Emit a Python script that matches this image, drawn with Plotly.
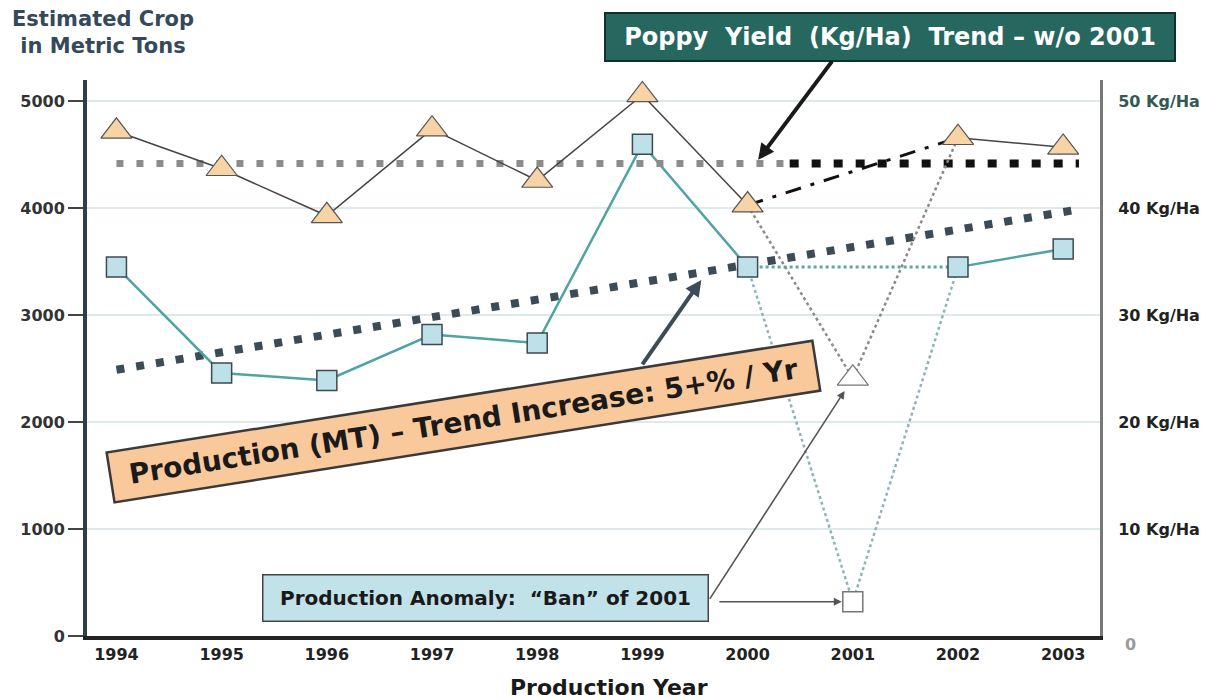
import plotly.graph_objects as go

# ---------------- data ----------------
years = [1994, 1995, 1996, 1997, 1998, 1999, 2000, 2001, 2002, 2003]
year_labels = [str(y) for y in years]
production_mt = [3450, 2460, 2390, 2820, 2740, 4600, 3450, 320, 3450, 3620]
yield_kgha = [47.2, 43.7, 39.3, 47.4, 42.6, 50.6, 40.3, 24.1, 46.6, 45.7]

prod_trend_x = [1994, 2003.15]
prod_trend_y = [2490, 3990]
yield_trend_gray_x = [1994, 2000.4]
yield_trend_black_x = [2000.4, 2003.15]
yield_trend_value = 44.2

left_ticks = [0, 1000, 2000, 3000, 4000, 5000]
right_ticks = [10, 20, 30, 40, 50]
right_tick_labels = [f"{v} Kg/Ha" for v in right_ticks]

FONT = "DejaVu Sans, Liberation Sans, Arial, sans-serif"
anomaly_year = 2001
i_an = years.index(anomaly_year)

fig = go.Figure()

# trend lines
fig.add_trace(go.Scatter(x=prod_trend_x, y=prod_trend_y, mode="lines",
                         line=dict(color="#3c4c56", width=8, dash="8px,12px"),
                         hoverinfo="skip"))
fig.add_trace(go.Scatter(x=yield_trend_gray_x, y=[yield_trend_value] * 2, yaxis="y2", mode="lines",
                         line=dict(color="#8c8c8c", width=7, dash="7px,13px"), hoverinfo="skip"))
fig.add_trace(go.Scatter(x=yield_trend_black_x, y=[yield_trend_value] * 2, yaxis="y2", mode="lines",
                         line=dict(color="#111111", width=8, dash="9px,13px"), hoverinfo="skip"))

# anomaly connectors (2000 -> 2001 -> 2002)
sl = slice(i_an - 1, i_an + 2)
fig.add_trace(go.Scatter(x=years[sl], y=production_mt[sl], mode="lines",
                         line=dict(color="#8fb3b5", width=2.5, dash="dot"), hoverinfo="skip"))
fig.add_trace(go.Scatter(x=years[sl], y=yield_kgha[sl], yaxis="y2", mode="lines",
                         line=dict(color="#8a8a8a", width=2.5, dash="dot"), hoverinfo="skip"))
# bypass lines 2000 -> 2002
fig.add_trace(go.Scatter(x=[years[i_an - 1], years[i_an + 1]],
                         y=[production_mt[i_an - 1], production_mt[i_an + 1]], mode="lines",
                         line=dict(color="#5aa6a3", width=3, dash="dot"), hoverinfo="skip"))
fig.add_trace(go.Scatter(x=[years[i_an - 1], years[i_an + 1]],
                         y=[yield_kgha[i_an - 1], yield_kgha[i_an + 1]], yaxis="y2", mode="lines",
                         line=dict(color="#111111", width=3, dash="16px,10px,4px,10px"), hoverinfo="skip"))

# main solid lines (break at anomaly)
prod_solid = [None if y == anomaly_year else v for y, v in zip(years, production_mt)]
yield_solid = [None if y == anomaly_year else v for y, v in zip(years, yield_kgha)]
fig.add_trace(go.Scatter(x=years, y=prod_solid, mode="lines", connectgaps=False,
                         line=dict(color="#4fa3a5", width=2.5), hoverinfo="skip"))
fig.add_trace(go.Scatter(x=years, y=yield_solid, yaxis="y2", mode="lines", connectgaps=False,
                         line=dict(color="#444444", width=1.5), hoverinfo="skip"))

# markers
sq_fill = ["#ffffff" if y == anomaly_year else "#bde0e9" for y in years]
sq_line = ["#777777" if y == anomaly_year else "#3d4a50" for y in years]
tr_fill = ["#ffffff" if y == anomaly_year else "#f8d3a6" for y in years]
tr_line = ["#777777" if y == anomaly_year else "#555555" for y in years]
fig.add_trace(go.Scatter(x=years, y=production_mt, mode="markers",
                         marker=dict(symbol="square", size=20, color=sq_fill,
                                     line=dict(color=sq_line, width=1.5))))
fig.add_trace(go.Scatter(x=years, y=yield_kgha, yaxis="y2", mode="markers",
                         marker=dict(symbol="triangle-up", size=27, color=tr_fill,
                                     line=dict(color=tr_line, width=1.2))))

right_tick_text = [f"<span style='color:#2f5a55'>{t}</span>" if v == 50 else t
                   for v, t in zip(right_ticks, right_tick_labels)]

annotations = [
    dict(text="Estimated Crop<br>in Metric Tons", xref="paper", yref="paper", x=0.0157, y=1.085,
         showarrow=False, xanchor="center", yanchor="middle",
         font=dict(family=FONT, size=21, color="#34495a", weight="bold")),
    dict(text="Production Year", xref="paper", yref="paper", x=0.515, y=-0.0935,
         showarrow=False, xanchor="center", yanchor="middle",
         font=dict(family=FONT, size=22, color="#1a1a1a", weight="bold")),
    dict(text="0", xref="paper", yref="paper", x=1.0305, y=-0.016, showarrow=False,
         xanchor="center", yanchor="middle",
         font=dict(family=FONT, size=16, color="#9a9a9a", weight="bold")),
    # Poppy yield box
    dict(text="Poppy&nbsp; Yield&nbsp; (Kg/Ha)&nbsp; Trend – w/o 2001", xref="paper", yref="paper",
         x=0.793, y=1.077, showarrow=False, xanchor="center", yanchor="middle",
         width=558, height=36, borderpad=5, bgcolor="#26675f", bordercolor="#14302c", borderwidth=2,
         font=dict(family=FONT, size=24, color="#ffffff", weight="bold")),
    dict(text="", x=2000.10, y=4453, ax=75, ay=-100, showarrow=True, arrowhead=2,
         arrowsize=0.8, arrowwidth=4, arrowcolor="#1a1a1a"),
    # Production trend box
    dict(text="Production (MT) – Trend Increase: 5+% / Yr", xref="paper", yref="paper",
         x=0.372, y=0.385, showarrow=False, xanchor="center", yanchor="middle", textangle=-9,
         width=700, height=36, borderpad=6, bgcolor="#f9c99b", bordercolor="#3a3a3a", borderwidth=2.5,
         font=dict(family=FONT, size=28, color="#1a1a1a", weight="bold")),
    dict(text="", x=1999.56, y=3330, ax=-60, ay=86, showarrow=True, arrowhead=2,
         arrowsize=0.8, arrowwidth=4, arrowcolor="#3c4c56"),
    # Ban box
    dict(text="Production Anomaly:&nbsp; “Ban” of 2001", xref="paper", yref="paper",
         x=0.393, y=0.068, showarrow=False, xanchor="center", yanchor="middle",
         width=432, height=33, borderpad=6, bgcolor="#c2e2ea", bordercolor="#444444", borderwidth=1.5,
         font=dict(family=FONT, size=20, color="#1a1a1a", weight="bold")),
    dict(text="", x=anomaly_year, y=production_mt[i_an], ax=-135, ay=0, standoff=11,
         showarrow=True, arrowhead=2, arrowsize=1, arrowwidth=1.6, arrowcolor="#555555"),
    dict(text="", x=anomaly_year, y=yield_kgha[i_an], yref="y2", ax=-144, ay=222, standoff=15,
         showarrow=True, arrowhead=2, arrowsize=1, arrowwidth=1.6, arrowcolor="#555555"),
]

fig.update_layout(
    width=1209, height=692,
    margin=dict(l=75, r=117, t=72, b=64),
    plot_bgcolor="white", paper_bgcolor="white",
    showlegend=False,
    font=dict(family=FONT),
    xaxis=dict(range=[1993.72, 2003.35], tickvals=years, ticktext=year_labels,
               showline=True, linewidth=4, linecolor="#222222", showgrid=False, zeroline=False,
               ticks="", ticklabelstandoff=1,
               tickfont=dict(family=FONT, size=16, color="#222222", weight="bold")),
    yaxis=dict(range=[0, 5200], tickvals=left_ticks, ticktext=[str(v) for v in left_ticks],
               showline=True, linewidth=4, linecolor="#2f3f45", showgrid=True,
               gridcolor="#dde9ea", gridwidth=1.5, zeroline=False,
               ticks="outside", ticklen=15, tickwidth=2, tickcolor="#444444",
               tickfont=dict(family=FONT, size=16, color="#333333", weight="bold")),
    yaxis2=dict(range=[0, 52], overlaying="y", side="right", tickvals=right_ticks,
                ticktext=right_tick_text, showline=True, linewidth=3, linecolor="#777777",
                showgrid=False, zeroline=False, ticks="", ticklabelstandoff=12,
                tickfont=dict(family=FONT, size=16, color="#222222", weight="bold")),
    annotations=annotations,
)

fig.write_html("out.html")
